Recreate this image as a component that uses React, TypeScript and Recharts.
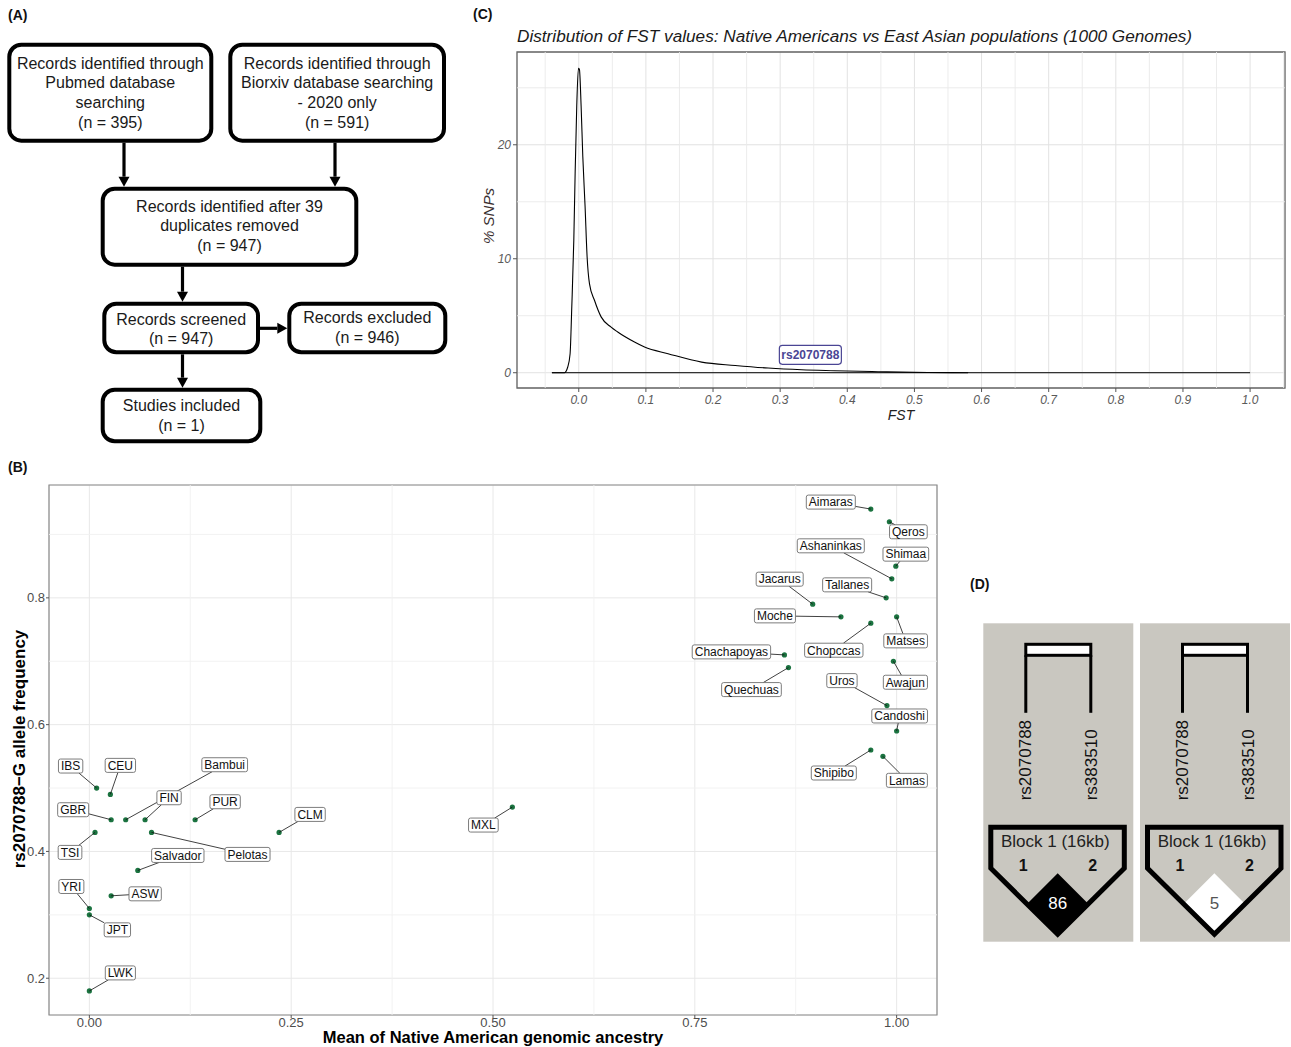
import React from "react";
import {
  CartesianGrid,
  Line,
  LineChart,
  ReferenceArea,
  ReferenceDot,
  ReferenceLine,
  Scatter,
  ScatterChart,
  XAxis,
  YAxis,
} from "recharts";

const FONT = "'Liberation Sans', Arial, Helvetica, sans-serif";

// ---- (C) FST density ----
const fstX = [
  -0.04, -0.03, -0.0214, -0.0164, -0.0129, -0.0104, -0.0074, -0.0054, -0.003, -0.0005, 0.001, 0.0035,
  0.006, 0.0094, 0.0124, 0.016, 0.0234, 0.0333, 0.0482, 0.058, 0.083, 0.098, 0.133, 0.183, 0.233,
  0.282, 0.332, 0.381, 0.446, 0.48, 0.52, 0.58,
];
const fstPct = [
  0, 0, 0, 0.5, 1.67, 5.77, 11.6, 17.5, 23.4, 26.7, 26.6, 23.4, 19.0, 14.6, 10.2, 7.8, 6.36, 4.9, 4.0,
  3.57, 2.69, 2.25, 1.67, 0.93, 0.64, 0.41, 0.26, 0.18, 0.09, 0.05, 0.02, 0,
];
const fstTicks = [0, 0.1, 0.2, 0.3, 0.4, 0.5, 0.6, 0.7, 0.8, 0.9, 1.0];
const fstMinorX = [-0.05, 0.05, 0.15, 0.25, 0.35, 0.45, 0.55, 0.65, 0.75, 0.85, 0.95, 1.05];
const pctTicks = [0, 10, 20];
const pctMinor = [5, 15, 25];
const snpName = "rs2070788";
const snpFst = 0.345;
const snpLabelY = 1.57;

// ---- (B) populations ----
const populations = [
  "IBS", "CEU", "GBR", "Bambui", "FIN", "TSI", "Pelotas", "PUR", "CLM", "Salvador", "ASW", "YRI", "JPT",
  "LWK", "MXL", "Aimaras", "Qeros", "Shimaa", "Ashaninkas", "Tallanes", "Jacarus", "Moche", "Matses",
  "Chopccas", "Chachapoyas", "Quechuas", "Awajun", "Uros", "Candoshi", "Shipibo", "Lamas",
];
const nativeAncestry = [
  0.009, 0.026, 0.027, 0.045, 0.069, 0.007, 0.077, 0.131, 0.235, 0.06, 0.027, 0.0, 0.0, 0.0, 0.524,
  0.968, 0.991, 0.999, 0.994, 0.987, 0.896, 0.931, 1.0, 0.968, 0.861, 0.866, 0.996, 0.988, 1.0, 0.968,
  0.983,
];
const gFreq = [
  0.5, 0.49, 0.45, 0.45, 0.45, 0.43, 0.43, 0.45, 0.43, 0.37, 0.33, 0.31, 0.3, 0.18, 0.47, 0.94, 0.92,
  0.85, 0.83, 0.8, 0.79, 0.77, 0.77, 0.76, 0.71, 0.69, 0.7, 0.63, 0.59, 0.56, 0.55,
];
const ancTicks = [0, 0.25, 0.5, 0.75, 1];
const ancMinor = [0.125, 0.375, 0.625, 0.875];
const freqTicks = [0.2, 0.4, 0.6, 0.8];
const freqMinor = [0.3, 0.5, 0.7, 0.9];

// repel label placement, pixel offset of label centre from its point
const labelOffsets: Record<string, [number, number]> = {
  IBS: [-26, -22], CEU: [10, -29], GBR: [-38, -10], Bambui: [99, -55], FIN: [24, -22],
  TSI: [-25, 20], Pelotas: [96, 22], PUR: [30, -18], CLM: [31, -18], Salvador: [40, -15],
  ASW: [34, -2], YRI: [-18, -22], JPT: [28, 15], LWK: [31, -18], MXL: [-29, 18],
  Aimaras: [-40, -7], Qeros: [19, 10], Shimaa: [10, -12], Ashaninkas: [-61, -33],
  Tallanes: [-39, -13], Jacarus: [-33, -25], Moche: [-66, -1], Matses: [9, 24],
  Chopccas: [-37, 27], Chachapoyas: [-53, -3], Quechuas: [-37, 22], Awajun: [12, 21],
  Uros: [-45, -25], Candoshi: [3, -15], Shipibo: [-37, 23], Lamas: [24, 24],
};

// ---- (D) LD blocks ----
const ldSnps = ["rs2070788", "rs383510"];
const ldBlockName = "Block 1 (16kb)";
const ldValues = [86, 5];

const fstData = fstX.map((x, i) => ({ x, y: fstPct[i] }));
const popData = populations.map((name, i) => ({ name, x: nativeAncestry[i], y: gFreq[i] }));

let measureCtx: CanvasRenderingContext2D | null = null;
function textWidth(text: string, font: string): number {
  if (!measureCtx) measureCtx = document.createElement("canvas").getContext("2d");
  if (!measureCtx) return text.length * 6.6;
  measureCtx.font = font;
  return measureCtx.measureText(text).width;
}

function PopDot(props: any) {
  const { cx, cy } = props;
  if (cx == null || cy == null) return null;
  return <circle cx={cx} cy={cy} r={2.6} fill="#1b7340" />;
}

function PopLabel(props: any) {
  const { cx, cy, payload } = props;
  if (cx == null || cy == null) return null;
  const off = labelOffsets[payload.name] ?? [0, -16];
  const w = textWidth(payload.name, `12px ${FONT}`) + 5;
  const h = 14;
  const bx = cx + off[0];
  const by = cy + off[1];
  const dx = cx - bx;
  const dy = cy - by;
  const s = Math.max(Math.abs(dx) / (w / 2), Math.abs(dy) / (h / 2));
  return (
    <g>
      {s > 1 ? (
        <line x1={cx} y1={cy} x2={bx + dx / s} y2={by + dy / s} stroke="#111" strokeWidth={0.8} />
      ) : null}
      <rect x={bx - w / 2} y={by - h / 2} width={w} height={h} rx={2} fill="#fff" stroke="#6e6e6e" strokeWidth={0.9} />
      <text x={bx} y={by + 4.3} textAnchor="middle" fontSize={12} fill="#111" fontFamily={FONT}>
        {payload.name}
      </text>
    </g>
  );
}

function SnpTag(props: any) {
  const { cx, cy } = props;
  if (cx == null || cy == null) return null;
  return (
    <g>
      <rect x={cx - 31} y={cy - 9.5} width={62} height={19} rx={3} fill="#fff" stroke="#4a4594" strokeWidth={1.2} />
      <text x={cx} y={cy + 4.3} textAnchor="middle" fontSize={12} fontWeight="bold" fill="#4a4594" fontFamily={FONT}>
        {snpName}
      </text>
    </g>
  );
}

type Box = { x: number; y: number; w: number; h: number; lines: string[]; base: number[] };
const flowBoxes: Box[] = [
  { x: 9.3, y: 44.7, w: 202, h: 96, lines: ["Records identified through", "Pubmed database", "searching", "(n = 395)"], base: [68.5, 88.2, 107.9, 127.6] },
  { x: 230.3, y: 44.7, w: 213.7, h: 96, lines: ["Records identified through", "Biorxiv database searching", "- 2020 only", "(n = 591)"], base: [68.5, 88.2, 107.9, 127.6] },
  { x: 102.7, y: 188.7, w: 253.6, h: 76, lines: ["Records identified after 39", "duplicates removed", "(n = 947)"], base: [211.5, 231.2, 250.9] },
  { x: 104.3, y: 303.7, w: 153.7, h: 48.6, lines: ["Records screened", "(n = 947)"], base: [324.5, 344.3] },
  { x: 289.3, y: 303.7, w: 156, h: 48.6, lines: ["Records excluded", "(n = 946)"], base: [323.3, 343] },
  { x: 102.7, y: 389.7, w: 157.6, h: 51.6, lines: ["Studies included", "(n = 1)"], base: [410.8, 430.5] },
];
const flowArrows = [
  [124, 142.7, 124, 186.7],
  [335, 142.7, 335, 186.7],
  [182.5, 266.7, 182.5, 301.7],
  [182.5, 354.3, 182.5, 387.7],
  [260, 328.3, 287.3, 328.3],
];

function Arrow({ a }: { a: number[] }) {
  const [x1, y1, x2, y2] = a;
  const len = Math.hypot(x2 - x1, y2 - y1);
  const ux = (x2 - x1) / len;
  const uy = (y2 - y1) / len;
  const hl = 10;
  const hw = 5.5;
  const bx = x2 - ux * hl;
  const by = y2 - uy * hl;
  return (
    <g>
      <line x1={x1} y1={y1} x2={bx} y2={by} stroke="#000" strokeWidth={3.2} />
      <polygon
        points={`${x2},${y2} ${bx - uy * hw},${by + ux * hw} ${bx + uy * hw},${by - ux * hw}`}
        fill="#000"
      />
    </g>
  );
}

function FlowChart() {
  return (
    <svg width={460} height={450} style={{ position: "absolute", left: 0, top: 0 }} fontFamily={FONT}>
      {flowBoxes.map((b, i) => (
        <g key={i}>
          <rect x={b.x} y={b.y} width={b.w} height={b.h} rx={12} fill="#fff" stroke="#000" strokeWidth={4} />
          {b.lines.map((t, j) => (
            <text key={j} x={b.x + b.w / 2} y={b.base[j]} textAnchor="middle" fontSize={16} fill="#1a1a1a">
              {t}
            </text>
          ))}
        </g>
      ))}
      {flowArrows.map((a, i) => (
        <Arrow key={i} a={a} />
      ))}
    </svg>
  );
}

function LdPanel({ left, value }: { left: number; value: number }) {
  const dark = value >= 50;
  return (
    <g transform={`translate(${left},53.3)`}>
      <rect x={0} y={0} width={150} height={318.4} fill="#c9c7c0" />
      <rect x={42.5} y={21} width={65} height={11} fill="#fff" stroke="#000" strokeWidth={3} />
      <line x1={42.5} y1={32} x2={42.5} y2={89.5} stroke="#000" strokeWidth={3} />
      <line x1={107.5} y1={32} x2={107.5} y2={89.5} stroke="#000" strokeWidth={3} />
      {ldSnps.map((s, i) => (
        <text
          key={s}
          transform={`translate(${i === 0 ? 42 : 108},177) rotate(-90)`}
          x={0}
          y={6}
          fontSize={17}
          fill="#111"
          fontFamily={FONT}
        >
          {s}
        </text>
      ))}
      <polygon points="74.4,250 104.4,280 74.4,310 44.4,280" fill={dark ? "#000" : "#fff"} />
      <polygon
        points="7.5,204 141,204 141,245 74.4,311 7.5,245"
        fill="none"
        stroke="#000"
        strokeWidth={5}
        strokeLinejoin="miter"
      />
      <text x={72} y={224} textAnchor="middle" fontSize={17} fill="#222" fontFamily={FONT}>
        {ldBlockName}
      </text>
      <text x={40} y={248} textAnchor="middle" fontSize={16} fontWeight="bold" fill="#111" fontFamily={FONT}>
        1
      </text>
      <text x={109.4} y={248} textAnchor="middle" fontSize={16} fontWeight="bold" fill="#111" fontFamily={FONT}>
        2
      </text>
      <text x={74.4} y={286} textAnchor="middle" fontSize={17} fill={dark ? "#fff" : "#555"} fontFamily={FONT}>
        {value}
      </text>
    </g>
  );
}

const panelTag: React.CSSProperties = { position: "absolute", fontWeight: "bold", fontSize: 14, color: "#111" };

export default function App() {
  return (
    <div
      style={{
        position: "absolute",
        left: 0,
        top: 0,
        width: 1291,
        height: 1047,
        overflow: "hidden",
        background: "#fff",
        fontFamily: FONT,
      }}
    >
      <div style={{ ...panelTag, left: 8, top: 7 }}>(A)</div>
      <div style={{ ...panelTag, left: 473, top: 6 }}>(C)</div>
      <div style={{ ...panelTag, left: 8, top: 459 }}>(B)</div>
      <div style={{ ...panelTag, left: 970, top: 576 }}>(D)</div>

      <FlowChart />

      {/* (C) */}
      <div
        style={{
          position: "absolute",
          left: 517,
          top: 26,
          fontSize: 17.2,
          fontStyle: "italic",
          color: "#1a1a1a",
          whiteSpace: "nowrap",
        }}
      >
        Distribution of FST values: Native Americans vs East Asian populations (1000 Genomes)
      </div>
      <div style={{ position: "absolute", left: 470, top: 0 }}>
        <LineChart width={821} height={430} data={fstData} margin={{ top: 52, right: 6, bottom: 0, left: 0 }}>
          <CartesianGrid stroke="#e2e2e2" strokeWidth={1} />
          {fstMinorX.map((v) => (
            <ReferenceLine key={"mx" + v} x={v} stroke="#eaeaea" strokeWidth={0.9} />
          ))}
          {pctMinor.map((v) => (
            <ReferenceLine key={"my" + v} y={v} stroke="#eaeaea" strokeWidth={0.9} />
          ))}
          <XAxis
            type="number"
            dataKey="x"
            domain={[-0.092, 1.052]}
            ticks={fstTicks}
            allowDataOverflow
            tickFormatter={(v: number) => v.toFixed(1)}
            tick={{ fill: "#5a5a5a", fontSize: 12, fontStyle: "italic" }}
            fontSize={12}
            tickSize={4}
            tickMargin={3}
            axisLine={false}
            tickLine={{ stroke: "#555" }}
            height={42}
          />
          <YAxis
            type="number"
            domain={[-1.34, 28.14]}
            ticks={pctTicks}
            allowDataOverflow
            tick={{ fill: "#5a5a5a", fontSize: 12, fontStyle: "italic" }}
            fontSize={12}
            tickSize={4}
            tickMargin={2}
            axisLine={false}
            tickLine={{ stroke: "#555" }}
            width={47}
          />
          <ReferenceLine segment={[{ x: -0.04, y: 0 }, { x: 1.0, y: 0 }]} stroke="#000" strokeWidth={1} />
          <Line
            type="monotone"
            dataKey="y"
            stroke="#000"
            strokeWidth={1.1}
            dot={false}
            isAnimationActive={false}
          />
          <ReferenceArea
            x1={-0.092}
            x2={1.052}
            y1={-1.34}
            y2={28.14}
            fill="none"
            stroke="#666"
            strokeWidth={1.3}
            ifOverflow="visible"
          />
          <ReferenceDot x={snpFst} y={snpLabelY} r={0} shape={SnpTag} ifOverflow="visible" />
        </LineChart>
      </div>
      <div
        style={{
          position: "absolute",
          left: 488,
          top: 216,
          transform: "translate(-50%,-50%) rotate(-90deg)",
          fontSize: 15,
          fontStyle: "italic",
          color: "#3a3030",
          whiteSpace: "nowrap",
        }}
      >
        % SNPs
      </div>
      <div
        style={{
          position: "absolute",
          left: 901,
          top: 415,
          transform: "translate(-50%,-50%)",
          fontSize: 14,
          fontStyle: "italic",
          color: "#222",
        }}
      >
        FST
      </div>

      {/* (B) */}
      <div style={{ position: "absolute", left: 0, top: 460 }}>
        <ScatterChart width={950} height={587} margin={{ top: 25, right: 13, bottom: 0, left: 0 }}>
          <CartesianGrid stroke="#e8e8e8" strokeWidth={1} />
          {ancMinor.map((v) => (
            <ReferenceLine key={"ax" + v} x={v} stroke="#f0f0f0" strokeWidth={0.9} />
          ))}
          {freqMinor.map((v) => (
            <ReferenceLine key={"fy" + v} y={v} stroke="#f0f0f0" strokeWidth={0.9} />
          ))}
          <XAxis
            type="number"
            dataKey="x"
            domain={[-0.05, 1.05]}
            ticks={ancTicks}
            allowDataOverflow
            tickFormatter={(v: number) => v.toFixed(2)}
            tick={{ fill: "#4d4d4d", fontSize: 13 }}
            fontSize={13}
            tickSize={3}
            tickMargin={0}
            axisLine={false}
            tickLine={{ stroke: "#555" }}
            height={32}
          />
          <YAxis
            type="number"
            dataKey="y"
            domain={[0.142, 0.978]}
            ticks={freqTicks}
            allowDataOverflow
            tickFormatter={(v: number) => v.toFixed(1)}
            tick={{ fill: "#4d4d4d", fontSize: 13 }}
            fontSize={13}
            tickSize={3}
            tickMargin={1}
            axisLine={false}
            tickLine={{ stroke: "#555" }}
            width={49}
          />
          <ReferenceArea
            x1={-0.05}
            x2={1.05}
            y1={0.142}
            y2={0.978}
            fill="none"
            stroke="#8a8a8a"
            strokeWidth={1.2}
            ifOverflow="visible"
          />
          <Scatter data={popData} shape={PopDot} isAnimationActive={false} />
          <Scatter data={popData} shape={PopLabel} isAnimationActive={false} />
        </ScatterChart>
      </div>
      <div
        style={{
          position: "absolute",
          left: 20,
          top: 749,
          transform: "translate(-50%,-50%) rotate(-90deg)",
          fontSize: 17,
          fontWeight: "bold",
          color: "#000",
          whiteSpace: "nowrap",
        }}
      >
        rs2070788−G allele frequency
      </div>
      <div
        style={{
          position: "absolute",
          left: 493,
          top: 1029,
          transform: "translateX(-50%)",
          fontSize: 16.5,
          lineHeight: "16px",
          fontWeight: "bold",
          color: "#000",
          whiteSpace: "nowrap",
        }}
      >
        Mean of Native American genomic ancestry
      </div>

      {/* (D) */}
      <svg width={331} height={380} style={{ position: "absolute", left: 960, top: 570 }}>
        {ldValues.map((v, i) => (
          <LdPanel key={i} left={23.3 + i * 156.7} value={v} />
        ))}
      </svg>
    </div>
  );
}
